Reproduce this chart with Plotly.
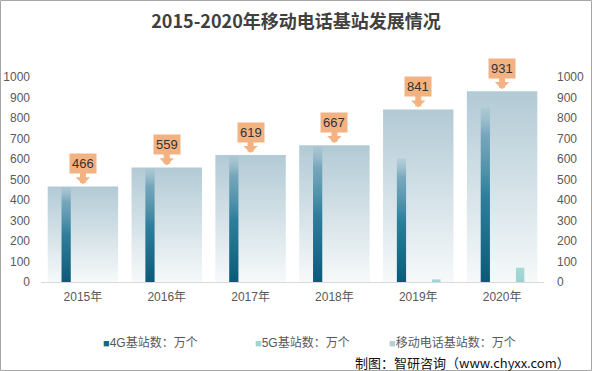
import plotly.graph_objects as go

years = ['2015年', '2016年', '2017年', '2018年', '2019年', '2020年']
total_stations = [466, 559, 619, 667, 841, 931]
g4_stations = [462, 553, 612, 660, 603, 850]
g5_stations = [0, 0, 0, 0, 13, 70]

W, H = 592, 371
L, R, T, B = 41, 48, 77, 89
PW, PH = W - L - R, H - T - B

ORANGE = '#F2B282'
C4G = '#1A6585'
C5G = '#A0D5D2'
CTOT = '#B7CDD7'

fig = go.Figure()


def bar_poly(center, half, value, colorscale, name):
    xs = [center - half, center + half, center + half, center - half, center - half]
    ys = [0, 0, value, value, 0]
    return go.Scatter(
        x=xs, y=ys, mode='lines', line=dict(width=0), fill='toself',
        fillgradient=dict(type='vertical', colorscale=colorscale, start=0, stop=value),
        name=name, showlegend=False, hoverinfo='skip',
    )


tot_scale = [[0, '#F6F9FA'], [1, '#B2CAD5']]
g4_scale = [[0, '#0B5A79'], [0.5, '#2F7F9C'], [0.85, 'rgba(95,152,176,0.75)'], [1, 'rgba(150,190,205,0.35)']]
g5_scale = [[0, '#9AD2CF'], [1, '#A8D9D6']]

for i, v in enumerate(total_stations):
    fig.add_trace(bar_poly(i, 0.42, v, tot_scale, '移动电话基站数：万个'))
for i, v in enumerate(g4_stations):
    if v:
        fig.add_trace(bar_poly(i - 0.2, 0.055, v, g4_scale, '4G基站数：万个'))
for i, v in enumerate(g5_stations):
    if v:
        fig.add_trace(bar_poly(i + 0.215, 0.05, v, g5_scale, '5G基站数：万个'))

# secondary axis carrier
fig.add_trace(go.Scatter(x=[None], y=[None], yaxis='y2', showlegend=False, hoverinfo='skip'))

# callout arrows first, then boxes on top
for i, v in enumerate(total_stations):
    fig.add_annotation(
        x=i, y=v, xref='x', yref='y', text='', showarrow=True,
        ax=0, ay=-16, axref='pixel', ayref='pixel',
        arrowhead=1, arrowwidth=6, arrowsize=0.4, arrowcolor=ORANGE, standoff=2,
    )
for i, v in enumerate(total_stations):
    fig.add_annotation(
        x=i, y=v, xref='x', yref='y', text=str(v), showarrow=False,
        yanchor='middle', yshift=23, bgcolor=ORANGE, borderpad=2,
        font=dict(size=13, color='#333333', family='Liberation Sans'),
    )

legend_items = [('4G基站数：万个', C4G, 101), ('5G基站数：万个', C5G, 253), ('移动电话基站数：万个', CTOT, 387)]
for text, col, px in legend_items:
    fig.add_annotation(
        x=(px - L) / PW, y=0, xref='paper', yref='paper', yshift=-(342 - 282),
        xanchor='left', yanchor='middle', showarrow=False,
        text=f'<span style="color:{col};font-size:11px">■</span>{text}',
        font=dict(size=12, color='#595959', family='Liberation Sans, Noto Sans CJK SC'),
    )

fig.add_annotation(
    x=(572 - L) / PW, y=0, xref='paper', yref='paper', yshift=-(362 - 282),
    xanchor='right', yanchor='middle', showarrow=False,
    text='制图：智研咨询（www.chyxx.com）',
    font=dict(size=13, color='#111111', family='Noto Sans CJK SC'),
)

# outer border
fig.add_shape(
    type='rect', xref='paper', yref='paper',
    x0=-(L - 0.5) / PW, x1=1 + (R - 0.5) / PW, y0=-(B - 0.5) / PH, y1=1 + (T - 0.5) / PH,
    line=dict(color='#A6A6A6', width=1), layer='above',
)

axis_font = dict(size=12, color='#595959', family='Liberation Sans, Noto Sans CJK SC')
fig.update_layout(
    width=W, height=H, margin=dict(l=L, r=R, t=T, b=B, autoexpand=False),
    paper_bgcolor='white', plot_bgcolor='white',
    title=dict(text='<b>2015-2020年移动电话基站发展情况</b>', x=0.5, xanchor='center',
               y=1 - 22 / H, yanchor='middle', yref='container',
               font=dict(size=18, color='#404040', family='Noto Sans CJK SC')),
    xaxis=dict(range=[-0.5, 5.5], tickvals=list(range(len(years))), ticktext=years,
               showgrid=False, zeroline=False, showline=True, linecolor='#D9D9D9',
               ticks='', tickfont=axis_font, ticklabelstandoff=4, automargin=False),
    yaxis=dict(range=[0, 1000], dtick=100, showgrid=False, zeroline=False, showline=False,
               ticks='', tickfont=axis_font, ticklabelstandoff=10, automargin=False),
    yaxis2=dict(range=[0, 1000], dtick=100, overlaying='y', side='right', showgrid=False,
                zeroline=False, showline=False, ticks='', tickfont=axis_font, ticklabelstandoff=12,
                automargin=False),
    showlegend=False,
)

fig.write_html('out.html', config={'displayModeBar': False},
               post_script="document.body.style.margin='0';document.body.style.overflow='hidden';")
